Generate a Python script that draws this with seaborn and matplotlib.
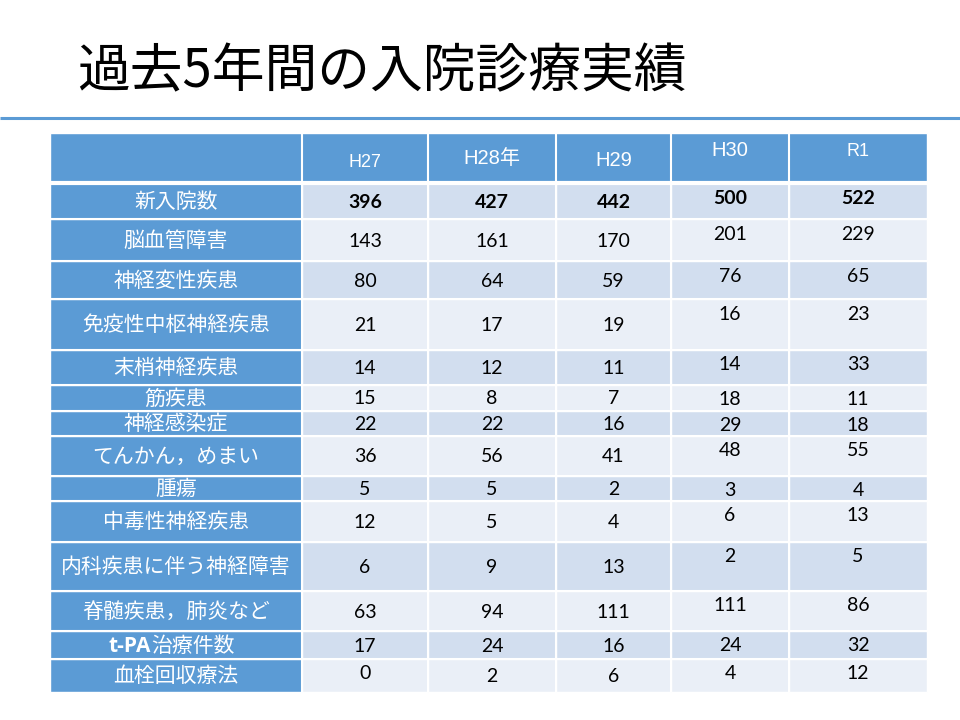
import matplotlib
matplotlib.use('Agg')
import matplotlib.pyplot as plt
import seaborn as sns
import numpy as np

sns.set_theme(style='white')
plt.rcParams['font.family'] = ['Noto Sans CJK JP', 'DejaVu Sans']

# data
title = '過去5年間の入院診療実績'
years = ['H27', 'H28年', 'H29', 'H30', 'R1']
categories = ['新入院数', '脳血管障害', '神経変性疾患', '免疫性中枢神経疾患', '末梢神経疾患',
              '筋疾患', '神経感染症', 'てんかん，めまい', '腫瘍', '中毒性神経疾患',
              '内科疾患に伴う神経障害', '脊髄疾患，肺炎など', 't-PA治療件数', '血栓回収療法']
h27 = [396, 143, 80, 21, 14, 15, 22, 36, 5, 12, 6, 63, 17, 0]
h28 = [427, 161, 64, 17, 12, 8, 22, 56, 5, 5, 9, 94, 24, 2]
h29 = [442, 170, 59, 19, 11, 7, 16, 41, 2, 4, 13, 111, 16, 6]
h30 = [500, 201, 76, 16, 14, 18, 29, 48, 3, 6, 2, 111, 24, 4]
r1 = [522, 229, 65, 23, 33, 11, 18, 55, 4, 13, 5, 86, 32, 12]
table = np.array([h27, h28, h29, h30, r1]).T

# layout (pixels)
col_edges = [50, 302, 428, 556, 671, 789, 927]
row_edges = [133, 183, 219, 261, 299, 349.5, 384.5, 410.5, 435.5, 475.5,
             500.5, 541.5, 590.5, 630.5, 658.5, 692]
header_y = [160.5, 158, 160, 149, 149]
header_size = [13, 14.5, 14.5, 14.5, 13]
top_aligned = [False, False, False, True, True]

blue = '#5B9BD5'
band_dark = '#D2DEEF'
band_light = '#EAEFF7'

fig = plt.figure(figsize=(9.6, 7.2), dpi=100)
ax = fig.add_axes([0, 0, 1, 1])
ax.set_xlim(0, 960)
ax.set_ylim(720, 0)
ax.axis('off')

# title and rule
ax.text(77, 72, title, fontsize=38, color='black', va='center', ha='left')
ax.hlines(118, 0, 960, color=blue, linewidth=2.2)

lefts = np.array(col_edges[:-1])
widths = np.diff(col_edges)

# header row
top, bot = row_edges[0], row_edges[1]
ax.barh((top + bot) / 2, col_edges[-1] - col_edges[0], left=col_edges[0],
        height=bot - top, color=blue)
for j, yr in enumerate(years):
    cx = (col_edges[j + 1] + col_edges[j + 2]) / 2
    ax.text(cx, header_y[j] + 6.5, yr, color='white', fontsize=header_size[j],
            ha='center', va='baseline',
            family=['Liberation Sans', 'Noto Sans CJK JP'])

# body rows
label_x = (col_edges[0] + col_edges[1]) / 2
for i, cat in enumerate(categories):
    top, bot = row_edges[i + 1], row_edges[i + 2]
    cy = (top + bot) / 2
    band = band_dark if i % 2 == 0 else band_light
    ax.barh(cy, widths[0], left=lefts[0], height=bot - top, color=blue)
    ax.barh([cy] * 5, widths[1:], left=lefts[1:], height=bot - top, color=band)
    if cat.startswith('t-PA'):
        # latin prefix is bold in the original
        ax.text(151, cy + 7, 't-PA', color='white', fontsize=15, ha='right',
                va='baseline', fontweight='bold', family=['Open Sans', 'DejaVu Sans'])
        ax.text(151, cy + 7, cat[4:], color='white', fontsize=15, ha='left',
                va='baseline')
    else:
        ax.text(label_x, cy + 7, cat, color='white', fontsize=15,
                ha='center', va='baseline')
    for j in range(5):
        cx = (col_edges[j + 1] + col_edges[j + 2]) / 2
        if top_aligned[j] or (i == len(categories) - 1 and j == 0):
            ty = top + 13.5
        else:
            ty = cy
        ax.text(cx, ty + 7, str(table[i, j]), color='black', fontsize=14,
                ha='center', va='baseline', family=['Lato', 'DejaVu Sans'],
                fontweight='bold' if i == 0 else 'normal')

# white grid lines
for y in row_edges[2:-1]:
    ax.hlines(y, col_edges[0], col_edges[-1], color='white', linewidth=1.5)
ax.hlines(row_edges[1], col_edges[0], col_edges[-1], color='white', linewidth=3)
for x in col_edges[1:-1]:
    ax.vlines(x, row_edges[0], row_edges[-1], color='white', linewidth=1.5)

fig.savefig('out.png', dpi=100, facecolor='white')
